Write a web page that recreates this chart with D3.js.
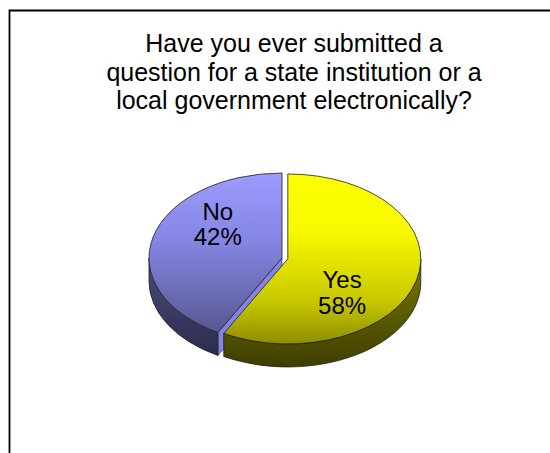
<!DOCTYPE html>
<html>
<head>
<meta charset="utf-8">
<script src="https://cdn.jsdelivr.net/npm/d3@7"></script>
<style>
  html, body { margin: 0; padding: 0; background: #fff; }
  svg { display: block; font-family: "Liberation Sans", Arial, sans-serif; }
</style>
</head>
<body>
<svg id="chart" width="550" height="453"></svg>
<script>
// data
var titleLines = ['Have you ever submitted a', 'question for a state institution or a', 'local government electronically?'];
var categories = ['Yes', 'No'];
var values = [58, 42];
var exploded = [true, false];

var width = 550, height = 453;
var cx = 282, cy = 258;       // centre of top ellipse
var rx = 133, ry = 85;        // ellipse radii
var depth = 23;               // thickness of pie
var explode = 6;

var topColors = {
    Yes: [['0%', '#ffff00'], ['35%', '#f8f800'], ['75%', '#c8c800'], ['100%', '#8f8f00']],
    No:  [['0%', '#9c9cff'], ['40%', '#8585e4'], ['85%', '#5f5f9e'], ['100%', '#50508a']]
};
var sideColors = {
    Yes: ['#7a7a00', '#3e3e00'],
    No:  ['#4c4c7c', '#2c2c4e']
};
var wallColor = '#8484e8';

var svg = d3.select('#chart');
var defs = svg.append('defs');

categories.forEach(function(c) {
    var g = defs.append('linearGradient')
        .attr('id', 'top' + c)
        .attr('gradientUnits', 'userSpaceOnUse')
        .attr('x1', 0).attr('x2', 0)
        .attr('y1', cy - ry).attr('y2', cy + ry);
    topColors[c].forEach(function(s) {
        g.append('stop').attr('offset', s[0]).attr('stop-color', s[1]);
    });
    var s = defs.append('linearGradient')
        .attr('id', 'side' + c)
        .attr('x1', 0).attr('x2', 0).attr('y1', 0).attr('y2', 1);
    s.append('stop').attr('offset', '0%').attr('stop-color', sideColors[c][0]);
    s.append('stop').attr('offset', '100%').attr('stop-color', sideColors[c][1]);
});

// frame
svg.append('path')
    .attr('d', 'M9.5,' + height + ' V10.5 H' + width)
    .style('fill', 'none')
    .style('stroke', '#000')
    .style('stroke-width', '1.8px');

// title
var title = svg.append('text')
    .attr('x', 294)
    .attr('y', 52)
    .style('font-size', '25px')
    .style('text-anchor', 'middle')
    .style('fill', '#000');
titleLines.forEach(function(t, i) {
    title.append('tspan')
        .attr('x', 294)
        .attr('dy', i === 0 ? 0 : 28.5)
        .text(t);
});

var pie = d3.pie().sort(null).value(function(d) { return d; });
var arcs = pie(values);

arcs.forEach(function(a, i) {
    a.name = categories[i];
    var mid = (a.startAngle + a.endAngle) / 2;
    var o = exploded[i] ? explode : 0;
    a.mid = mid;
    a.ox = cx + o * Math.sin(mid);
    a.oy = cy - o * Math.cos(mid) * ry / rx;
});

function pt(a, ang, dy) {
    return [a.ox + rx * Math.sin(ang), a.oy - ry * Math.cos(ang) + (dy || 0)];
}

function topPath(a) {
    var p0 = pt(a, a.startAngle), p1 = pt(a, a.endAngle);
    var large = a.endAngle - a.startAngle > Math.PI ? 1 : 0;
    return 'M' + a.ox + ',' + a.oy + 'L' + p0 + 'A' + rx + ',' + ry + ' 0 ' + large + ' 1 ' + p1 + 'Z';
}

function sidePath(a) {
    var b0 = Math.max(a.startAngle, Math.PI / 2);
    var b1 = Math.min(a.endAngle, Math.PI * 1.5);
    if (b1 <= b0) return null;
    var p0 = pt(a, b0), p1 = pt(a, b1), q0 = pt(a, b0, depth), q1 = pt(a, b1, depth);
    return 'M' + p0 + 'A' + rx + ',' + ry + ' 0 0 1 ' + p1 + 'L' + q1 +
        'A' + rx + ',' + ry + ' 0 0 0 ' + q0 + 'Z';
}

function wallPath(a, ang) {
    var p = pt(a, ang), q = pt(a, ang, depth);
    return 'M' + a.ox + ',' + a.oy + 'L' + p + 'L' + q + 'L' + a.ox + ',' + (a.oy + depth) + 'Z';
}

var g = svg.append('g');

// walls facing the viewer (start edge of slices on the left half)
arcs.forEach(function(a) {
    if (a.startAngle > Math.PI && a.startAngle < Math.PI * 1.5) {
        g.append('path')
            .attr('d', wallPath(a, a.startAngle))
            .style('fill', wallColor)
            .style('stroke', '#2a2a40')
            .style('stroke-width', '0.6px');
    }
});

// outer sides
arcs.forEach(function(a) {
    var d = sidePath(a);
    if (!d) return;
    g.append('path')
        .attr('d', d)
        .style('fill', 'url(#side' + a.name + ')')
        .style('stroke', '#1e1e1e')
        .style('stroke-width', '0.8px')
        .style('stroke-linejoin', 'round');
});

// tops
arcs.forEach(function(a) {
    g.append('path')
        .attr('d', topPath(a))
        .style('fill', 'url(#top' + a.name + ')')
        .style('stroke', '#1e1e1e')
        .style('stroke-width', '0.8px')
        .style('stroke-linejoin', 'round');
});

// labels
arcs.forEach(function(a, i) {
    var lx = a.ox + 0.46 * rx * Math.sin(a.mid) - 5;
    var ly = a.oy - 1.59 * ry * Math.cos(a.mid) - 4.5;
    var t = g.append('text')
        .attr('x', lx)
        .attr('y', ly)
        .style('font-size', '24px')
        .style('text-anchor', 'middle')
        .style('fill', '#000');
    t.append('tspan').attr('x', lx).text(categories[i]);
    t.append('tspan').attr('x', lx).attr('dy', 25.5).text(values[i] + '%');
});
</script>
</body>
</html>
